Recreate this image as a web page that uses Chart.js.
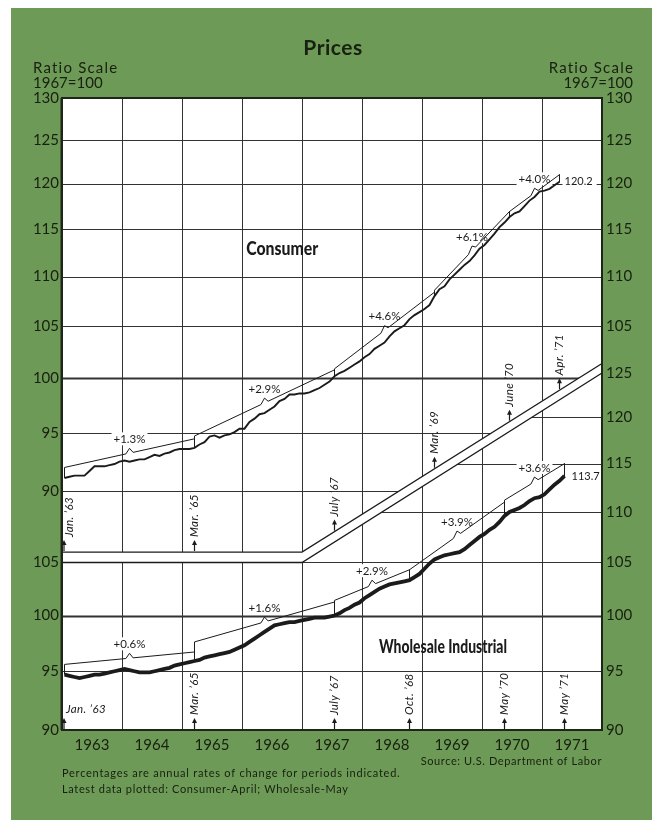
<!DOCTYPE html>
<html><head><meta charset="utf-8">
<script src="https://cdn.jsdelivr.net/npm/chart.js@4.4.0/dist/chart.umd.min.js"></script>
<style>html,body{margin:0;padding:0;background:#fff;}#wrap{width:657px;height:820px;}canvas{display:block;}</style>
</head><body><div id="wrap"><canvas id="c" width="657" height="820"></canvas></div>
<script>
// ---------- DATA ----------
const years = ['1963','1964','1965','1966','1967','1968','1969','1970','1971'];
const startYear = 1963;
// Consumer prices, monthly Jan 1963 - Apr 1971 (1967=100)
const consumerValues = [
  91.1, 91.2, 91.3, 91.3, 91.3, 91.7, 92.1, 92.1, 92.1, 92.2, 92.3, 92.5,
  92.6, 92.5, 92.6, 92.7, 92.7, 92.9, 93.1, 93.0, 93.2, 93.3, 93.5, 93.6,
  93.6, 93.6, 93.7, 94.0, 94.2, 94.7, 94.8, 94.6, 94.8, 94.9, 95.1, 95.4,
  95.4, 96.0, 96.3, 96.7, 96.8, 97.1, 97.4, 97.9, 98.1, 98.5, 98.5, 98.6,
  98.6, 98.7, 98.9, 99.1, 99.4, 99.7, 100.2, 100.5, 100.7, 101.0, 101.3, 101.6,
  102.0, 102.3, 102.8, 103.1, 103.4, 104.0, 104.5, 104.8, 105.1, 105.7, 106.1, 106.4,
  106.7, 107.1, 108.0, 108.7, 109.0, 109.7, 110.2, 110.7, 111.2, 111.6, 112.2, 112.9,
  113.3, 113.9, 114.5, 115.2, 115.7, 116.3, 116.7, 116.9, 117.5, 118.1, 118.5, 119.1,
  119.2, 119.4, 119.8, 120.2
];
// Wholesale industrial prices, monthly Jan 1963 - May 1971 (1967=100)
const wholesaleValues = [
  94.7, 94.6, 94.5, 94.4, 94.5, 94.6, 94.7, 94.7, 94.8, 94.9, 95.0, 95.1,
  95.2, 95.1, 95.0, 94.9, 94.9, 94.9, 95.0, 95.1, 95.2, 95.3, 95.5, 95.6,
  95.7, 95.8, 95.9, 96.0, 96.2, 96.3, 96.4, 96.5, 96.6, 96.7, 96.9, 97.1,
  97.3, 97.6, 97.9, 98.2, 98.5, 98.8, 99.1, 99.2, 99.3, 99.4, 99.4, 99.5,
  99.6, 99.7, 99.8, 99.8, 99.8, 99.9, 100.0, 100.2, 100.5, 100.7, 101.0, 101.2,
  101.6, 101.9, 102.2, 102.5, 102.7, 102.9, 103.0, 103.1, 103.2, 103.3, 103.6, 103.9,
  104.4, 104.9, 105.3, 105.5, 105.7, 105.8, 105.9, 106.0, 106.3, 106.7, 107.1, 107.5,
  107.8, 108.2, 108.5, 109.0, 109.6, 110.0, 110.2, 110.4, 110.7, 111.1, 111.4, 111.5,
  111.8, 112.3, 112.8, 113.2, 113.7
];
// Rate-of-change periods: boundaries as month indices from Jan 1963
const consumerPeriodIdx = [0, 26, 54, 74, 89, 99];
const consumerPeriodLabels = ['Jan. ’63', 'Mar. ’65', 'July ’67', 'Mar. ’69', 'June ’70', 'Apr. ’71'];
const consumerBraceTopStart = [92.0, 94.75, 100.9, 108.6, 116.9];
const consumerBraceTopEnd   = [94.5, 100.8, 108.4, 116.9, 121.0];
const consumerRates = ['+1.3%', '+2.9%', '+4.6%', '+6.1%', '+4.0%'];

const wholesalePeriodIdx = [0, 26, 54, 69, 88, 100];
const wholesalePeriodLabels = ['Jan. ’63', 'Mar. ’65', 'July ’67', 'Oct. ’68', 'May ’70', 'May ’71'];
const wholesaleBraceTopStart = [95.6, 97.6, 101.4, 104.3, 111.2];
const wholesaleBraceTopEnd   = [96.7, 101.25, 104.3, 111.0, 115.0];
const wholesaleRates = ['+0.6%', '+1.6%', '+2.9%', '+3.9%', '+3.6%'];

const consumerTicksLeft  = [90, 95, 100, 105, 110, 115, 120, 125, 130];
const consumerTicksRight = [105, 110, 115, 120, 125, 130];
const wholesaleTicksLeft  = [90, 95, 100, 105];
const wholesaleTicksRight = [90, 95, 100, 105, 110, 115, 120, 125];
const consumerGrid  = [90, 95, 100, 105, 110, 115, 120, 125, 130];
const wholesaleGrid = [90, 95, 100, 105, 110, 115, 120, 125];

// ---------- helpers ----------
const monthX = i => startYear + (i + 0.5) / 12;
const toPoints = vals => vals.map((v, i) => ({ x: monthX(i), y: v }));
const INK = '#1b1b1b';
const TXT = '#18200f';
const GREEN = '#6e9a58';
const FONT = 'Lato, "Open Sans", "DejaVu Sans", sans-serif';
const breakYear = 1967;             // where the scale break turns diagonal
const consumerBreak = [85, 101.4];  // consumer scale values of break edge (left part, right end)
const wholesaleBreak = [105, 125];  // wholesale scale values of break edge
const notchHalf = 0.06, notchRise = 1.0045;

function braceDatasets(vals, idx, topS, topE, axis, rates) {
  const out = [];
  for (let k = 0; k < topS.length; k++) {
    const i0 = idx[k], i1 = idx[k + 1];
    const xs = monthX(i0), xe = monthX(i1), xm = (xs + xe) / 2;
    const topAt = x => topS[k] * Math.pow(topE[k] / topS[k], (x - xs) / (xe - xs));
    out.push({
      yAxisID: axis, borderColor: INK, borderWidth: 1, pointRadius: 0, fill: false,
      data: [
        { x: xs, y: vals[i0] }, { x: xs, y: topS[k] },
        { x: xm - notchHalf, y: topAt(xm - notchHalf) },
        { x: xm, y: topAt(xm) * notchRise },
        { x: xm + notchHalf, y: topAt(xm + notchHalf) },
        { x: xe, y: topE[k] }, { x: xe, y: vals[i1] }
      ],
      _label: { text: rates[k], x: xm, y: topAt(xm) * notchRise }
    });
  }
  return out;
}

const datasets = [
  { yAxisID: 'yC', data: toPoints(consumerValues), borderColor: INK, borderWidth: 1.9, pointRadius: 0, fill: false },
  { yAxisID: 'yW', data: toPoints(wholesaleValues), borderColor: INK, borderWidth: 3.8, pointRadius: 0, fill: false },
  ...braceDatasets(consumerValues, consumerPeriodIdx, consumerBraceTopStart, consumerBraceTopEnd, 'yC', consumerRates),
  ...braceDatasets(wholesaleValues, wholesalePeriodIdx, wholesaleBraceTopStart, wholesaleBraceTopEnd, 'yW', wholesaleRates)
];

function geom(chart) {
  const a = chart.chartArea, sx = chart.scales.x, yC = chart.scales.yC, yW = chart.scales.yW;
  const xB = sx.getPixelForValue(breakYear);
  return {
    a, sx, yC, yW, xB,
    cL: yC.getPixelForValue(consumerBreak[0]), cR: yC.getPixelForValue(consumerBreak[1]),
    wL: yW.getPixelForValue(wholesaleBreak[0]), wR: yW.getPixelForValue(wholesaleBreak[1])
  };
}
function cBoundary(g, x) {
  if (x <= g.xB) return g.cL;
  return g.cL + (g.cR - g.cL) * (x - g.xB) / (g.a.right - g.xB);
}
const PCT_FONT = '11.5px ' + FONT;
const VAL_FONT = '11px ' + FONT;
function labelBox(ctx, text, cx, cy, font) {
  ctx.font = font;
  const w = ctx.measureText(text).width;
  return { x: cx - w / 2 - 2, y: cy - 7, w: w + 4, h: 13 };
}
function condensedText(ctx, text, cx, cy, width) {
  const w = ctx.measureText(text).width;
  ctx.save();
  ctx.translate(cx, cy);
  ctx.scale(Math.min(1, width / w), 1);
  ctx.textAlign = 'center';
  ctx.fillText(text, 0, 0);
  ctx.restore();
}

const decor = {
  id: 'decor',
  beforeDraw(chart) {
    const ctx = chart.ctx, a = chart.chartArea;
    ctx.save();
    ctx.fillStyle = '#fff'; ctx.fillRect(0, 0, chart.width, chart.height);
    ctx.fillStyle = GREEN; ctx.fillRect(11, 8, 641, 812);
    ctx.fillStyle = '#fff'; ctx.fillRect(a.left, a.top, a.right - a.left, a.bottom - a.top);
    ctx.restore();
  },
  beforeDatasetsDraw(chart) {
    const ctx = chart.ctx, g = geom(chart), a = g.a;
    const drawGrid = (ticks, scale) => {
      ctx.strokeStyle = '#333';
      for (let yr = 1964; yr <= 1971; yr++) {
        const x = Math.round(g.sx.getPixelForValue(yr)) + 0.5;
        ctx.lineWidth = 1; ctx.beginPath(); ctx.moveTo(x, a.top); ctx.lineTo(x, a.bottom); ctx.stroke();
      }
      ticks.forEach(v => {
        const y = Math.round(scale.getPixelForValue(v)) + 0.5;
        ctx.lineWidth = v === 100 ? 2 : 1;
        ctx.beginPath(); ctx.moveTo(a.left, y); ctx.lineTo(a.right, y); ctx.stroke();
      });
    };
    // consumer region grid
    ctx.save();
    ctx.beginPath();
    ctx.moveTo(a.left, a.top); ctx.lineTo(a.right, a.top); ctx.lineTo(a.right, g.cR);
    ctx.lineTo(g.xB, g.cL); ctx.lineTo(a.left, g.cL); ctx.closePath(); ctx.clip();
    drawGrid(consumerGrid, g.yC);
    ctx.restore();
    // wholesale region grid
    ctx.save();
    ctx.beginPath();
    ctx.moveTo(a.left, g.wL); ctx.lineTo(g.xB, g.wL); ctx.lineTo(a.right, g.wR);
    ctx.lineTo(a.right, a.bottom); ctx.lineTo(a.left, a.bottom); ctx.closePath(); ctx.clip();
    drawGrid(wholesaleGrid, g.yW);
    ctx.restore();
    // white knock-outs behind rate labels and end value
    ctx.save();
    ctx.fillStyle = '#fff';
    chart.data.datasets.forEach(ds => {
      if (!ds._label) return;
      const sc = chart.scales[ds.yAxisID];
      const b = labelBox(ctx, ds._label.text, g.sx.getPixelForValue(ds._label.x), sc.getPixelForValue(ds._label.y) - 9, PCT_FONT);
      ctx.fillRect(b.x, b.y, b.w, b.h);
    });
    const lc = consumerValues.length - 1;
    ctx.font = VAL_FONT;
    const t1 = consumerValues[lc].toFixed(1);
    const x1 = g.sx.getPixelForValue(monthX(lc)) + 3, y1 = g.yC.getPixelForValue(consumerValues[lc]);
    ctx.fillRect(x1, y1 - 7, ctx.measureText(t1).width + 6, 14);
    ctx.restore();
  },
  afterDatasetsDraw(chart) {
    const ctx = chart.ctx, g = geom(chart), a = g.a;
    ctx.save();
    // break lines
    ctx.strokeStyle = INK; ctx.lineWidth = 1.3;
    ctx.beginPath(); ctx.moveTo(a.left, g.cL); ctx.lineTo(g.xB, g.cL); ctx.lineTo(a.right, g.cR); ctx.stroke();
    ctx.beginPath(); ctx.moveTo(a.left, g.wL); ctx.lineTo(g.xB, g.wL); ctx.lineTo(a.right, g.wR); ctx.stroke();
    // frame
    ctx.strokeStyle = '#1e261a'; ctx.lineWidth = 2;
    ctx.strokeRect(a.left, a.top, a.right - a.left, a.bottom - a.top);
    ctx.fillStyle = '#1e261a'; ctx.fillRect(a.left - 1.5, a.top, 2.5, a.bottom - a.top);

    // tick labels
    ctx.fillStyle = TXT; ctx.font = '15px ' + FONT; ctx.textBaseline = 'middle';
    ctx.textAlign = 'right';
    consumerTicksLeft.forEach(v => ctx.fillText(String(v), a.left - 3, g.yC.getPixelForValue(v)));
    wholesaleTicksLeft.forEach(v => ctx.fillText(String(v), a.left - 3, g.yW.getPixelForValue(v)));
    ctx.textAlign = 'left';
    consumerTicksRight.forEach(v => ctx.fillText(String(v), a.right + 4, g.yC.getPixelForValue(v)));
    wholesaleTicksRight.forEach(v => ctx.fillText(String(v), a.right + 4, g.yW.getPixelForValue(v)));
    // year labels
    ctx.textAlign = 'center';
    years.forEach((y, k) => ctx.fillText(y, g.sx.getPixelForValue(startYear + k + 0.5), a.bottom + 15));

    // header texts
    ctx.font = 'bold 21px ' + FONT; ctx.textAlign = 'center';
    ctx.letterSpacing = '0.5px';
    ctx.fillText('Prices', 333, 48);
    ctx.font = '15px ' + FONT; ctx.textAlign = 'left';
    ctx.letterSpacing = '1.2px';
    ctx.fillText('Ratio Scale', 33, 68);
    ctx.textAlign = 'right';
    ctx.fillText('Ratio Scale', 634, 68);
    ctx.letterSpacing = '0px';
    ctx.textAlign = 'left'; ctx.fillText('1967=100', 33, 83);
    ctx.textAlign = 'right'; ctx.fillText('1967=100', 633, 83);
    // footnotes
    ctx.font = '11px ' + FONT; ctx.letterSpacing = '0.6px'; ctx.textAlign = 'right';
    ctx.fillText('Source: U.S. Department of Labor', a.right, a.bottom + 31);
    ctx.letterSpacing = '0.75px'; ctx.textAlign = 'left';
    ctx.fillText('Percentages are annual rates of change for periods indicated.', a.left, a.bottom + 43);
    ctx.letterSpacing = '0.65px';
    ctx.fillText('Latest data plotted: Consumer-April; Wholesale-May', a.left, a.bottom + 59);
    ctx.letterSpacing = '0px';

    // series titles
    ctx.fillStyle = INK; ctx.font = '900 18px ' + FONT;
    condensedText(ctx, 'Consumer', g.sx.getPixelForValue(1966.67), g.yC.getPixelForValue(112.8), 72);
    condensedText(ctx, 'Wholesale Industrial', g.sx.getPixelForValue(1969.35), g.yW.getPixelForValue(97.1), 128);

    // rate labels
    ctx.font = PCT_FONT; ctx.textAlign = 'center';
    chart.data.datasets.forEach(ds => {
      if (!ds._label) return;
      const sc = chart.scales[ds.yAxisID];
      ctx.fillText(ds._label.text, g.sx.getPixelForValue(ds._label.x), sc.getPixelForValue(ds._label.y) - 9);
    });
    // end values
    ctx.font = VAL_FONT; ctx.textAlign = 'left';
    const lc = consumerValues.length - 1, lw = wholesaleValues.length - 1;
    ctx.fillText(consumerValues[lc].toFixed(1), g.sx.getPixelForValue(monthX(lc)) + 5, g.yC.getPixelForValue(consumerValues[lc]));
    ctx.fillText(wholesaleValues[lw].toFixed(1), g.sx.getPixelForValue(monthX(lw)) + 7, g.yW.getPixelForValue(wholesaleValues[lw]));

    // date arrows
    const arrow = (x, yb, label, nudge) => {
      const len = 11;
      ctx.strokeStyle = INK; ctx.lineWidth = 1.2;
      ctx.beginPath(); ctx.moveTo(x, yb); ctx.lineTo(x, yb - len + 2); ctx.stroke();
      ctx.beginPath(); ctx.moveTo(x, yb - len); ctx.lineTo(x - 2.5, yb - len + 5); ctx.lineTo(x + 2.5, yb - len + 5); ctx.closePath(); ctx.fill();
      if (label) {
        ctx.save();
        ctx.translate(x + (nudge || 0), yb - len - 3);
        ctx.rotate(-Math.PI / 2);
        ctx.font = 'italic 11.5px ' + FONT; ctx.letterSpacing = '0.4px';
        ctx.textAlign = 'left'; ctx.textBaseline = 'middle';
        ctx.fillText(label, 0, 0);
        ctx.restore();
      }
    };
    ctx.fillStyle = INK;
    consumerPeriodIdx.forEach((i, k) => {
      let x = g.sx.getPixelForValue(monthX(i));
      if (k === 0) x = a.left + 2;
      arrow(x, cBoundary(g, x) - 1, consumerPeriodLabels[k], k === 0 ? 5 : 0);
    });
    wholesalePeriodIdx.forEach((i, k) => {
      let x = g.sx.getPixelForValue(monthX(i));
      if (k === 0) x = a.left + 2;
      arrow(x, a.bottom - 1, k === 0 ? null : wholesalePeriodLabels[k], 0);
    });
    ctx.font = 'italic 11.5px ' + FONT; ctx.letterSpacing = '0.4px';
    ctx.textAlign = 'left'; ctx.textBaseline = 'middle';
    ctx.fillText(wholesalePeriodLabels[0], a.left + 4, a.bottom - 21);
    ctx.letterSpacing = '0px';
    ctx.restore();
  }
};

new Chart(document.getElementById('c').getContext('2d'), {
  type: 'line',
  data: { datasets },
  options: {
    responsive: false, animation: false, devicePixelRatio: 1,
    layout: { padding: { left: 62, right: 55, top: 98, bottom: 90 } },
    plugins: { legend: { display: false }, tooltip: { enabled: false } },
    elements: { line: { tension: 0 }, point: { radius: 0 } },
    scales: {
      x: { type: 'linear', min: 1963, max: 1972, display: false },
      yC: { type: 'logarithmic', min: 71.96, max: 130, display: false },
      yW: { type: 'logarithmic', min: 90, max: 161.0, display: false }
    }
  },
  plugins: [decor]
});
</script></body></html>
